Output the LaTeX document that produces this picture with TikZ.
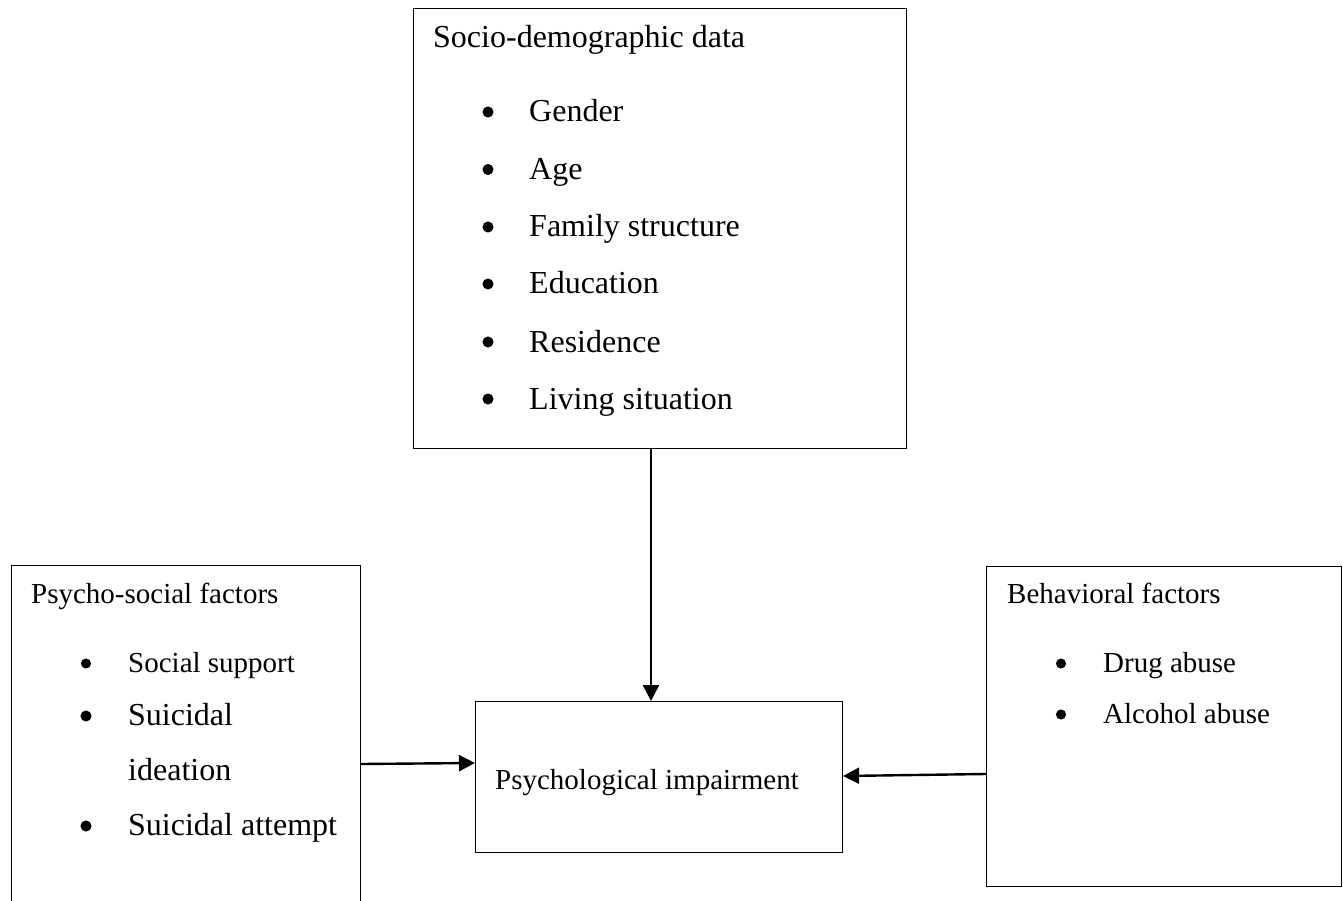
\documentclass[tikz,border=0pt]{standalone}
\usepackage{fontspec}
\setmainfont{Liberation Serif}
\usetikzlibrary{arrows.meta}
\tikzset{
  box/.style={draw=black, line width=1.1pt, rectangle, inner sep=0pt, anchor=north west},
  big/.style={anchor=base west, inner sep=0pt, font=\fontsize{32}{36}\selectfont},
  small/.style={anchor=base west, inner sep=0pt, font=\fontsize{29}{33}\selectfont},
  bigdot/.style={circle, fill=black, draw=black, line width=1pt, inner sep=0pt, minimum size=10pt},
  smalldot/.style={circle, fill=black, draw=black, line width=1pt, inner sep=0pt, minimum size=9pt},
  arr/.style={line width=2.4pt, -{Triangle[length=16pt,width=16pt]}}
}
\begin{document}
\begin{tikzpicture}[x=1pt,y=-1pt]
\useasboundingbox (0,0) rectangle (1343,901);
\clip (0,0) rectangle (1343,901);
\fill[white] (0,0) rectangle (1343,901);
% boxes
\node[box, minimum width=493pt, minimum height=440pt] (soc) at (413,8) {};
\node[box, minimum width=367pt, minimum height=151pt] (imp) at (475,701) {};
\node[box, minimum width=349pt, minimum height=360pt] (psf) at (11,565) {};
\node[box, minimum width=355pt, minimum height=320pt] (beh) at (986,566) {};
% top box text
\node[big] (t0) at (433,48) {Socio-demographic data};
\foreach \y/\t [count=\i] in {122/Gender,179.5/Age,237/Family structure,294/Education,352/Residence,409/Living situation}{
  \node[bigdot] (tb\i) at (488,\y-10) {};
  \node[big] (tt\i) at (529,\y) {\t};
}
% center text
\node[small] (c0) at (495,789) {Psychological impairment};
% left box
\node[small] (l0) at (31,603) {Psycho-social factors};
\node[smalldot] (lb1) at (86,663.5) {};
\node[small] (lt1) at (128,672) {Social support};
\node[bigdot] (lb2) at (86,716) {};
\node[big] (lt2) at (128,725) {Suicidal};
\node[big] (lt3) at (128,780) {ideation};
\node[bigdot] (lb4) at (86,826) {};
\node[big] (lt4) at (128,835) {Suicidal attempt};
% right box
\node[small] (r0) at (1007,603) {Behavioral factors};
\node[smalldot] (rb1) at (1061,663.5) {};
\node[small] (rt1) at (1103,672) {Drug abuse};
\node[smalldot] (rb2) at (1061,714.5) {};
\node[small] (rt2) at (1103,723) {Alcohol abuse};
% arrows
\coordinate (a1) at ([xshift=238pt]soc.south west);
\draw[arr] (a1) -- (a1 |- imp.north);
\draw[arr] ([yshift=-199pt]psf.north east) -- ([yshift=-62pt]imp.north west);
\draw[arr] ([yshift=-208pt]beh.north west) -- ([yshift=-75pt]imp.north east);
\end{tikzpicture}
\end{document}
